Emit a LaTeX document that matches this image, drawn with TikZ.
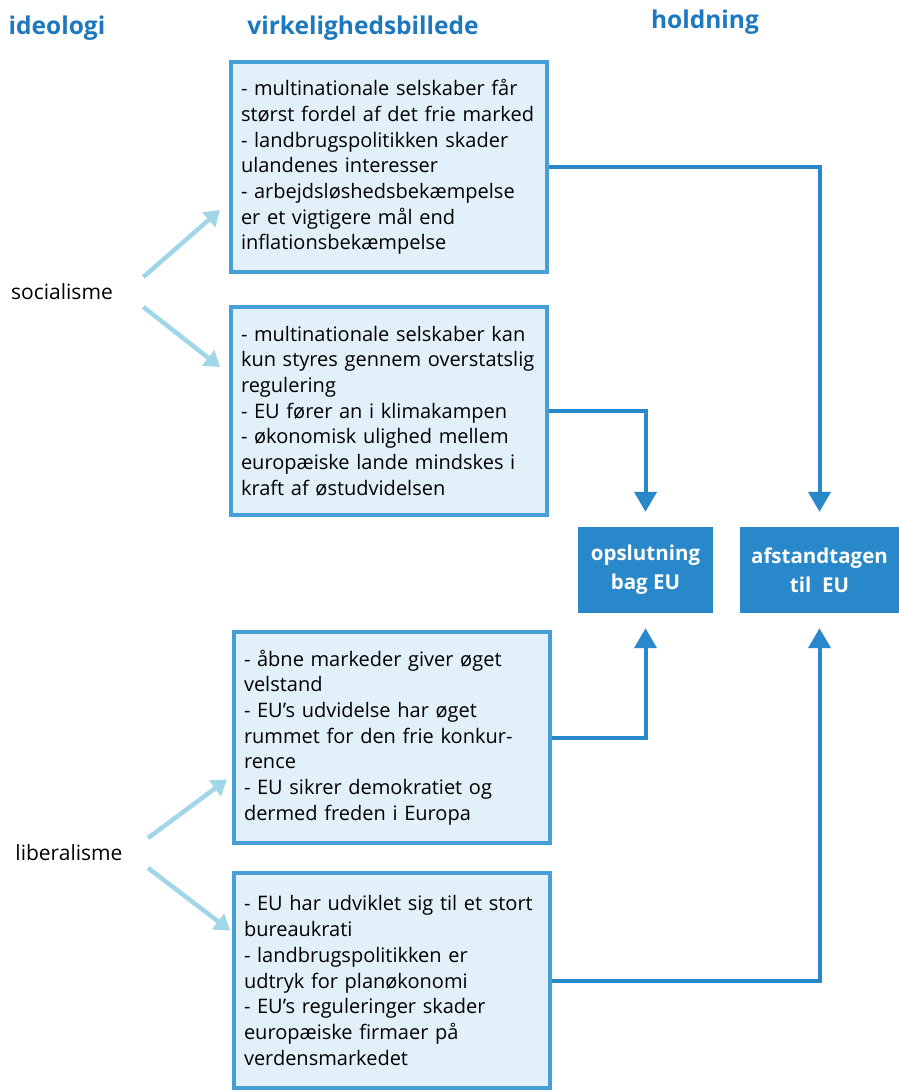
\documentclass[tikz,border=0pt]{standalone}
\usepackage{fontspec}
\setmainfont{Open Sans}
\usetikzlibrary{arrows.meta}
\definecolor{headblue}{RGB}{30,120,190}
\definecolor{frameblue}{RGB}{70,160,215}
\definecolor{paleblue}{RGB}{226,240,250}
\definecolor{darkblue}{RGB}{41,136,202}
\definecolor{skyblue}{RGB}{160,214,232}
\tikzset{
  header/.style={font=\fontsize{24.5}{28}\selectfont\bfseries, text=headblue},
  ideo/.style={font=\fontsize{21}{24}\selectfont},
  viewbox/.style={draw=frameblue, line width=4pt, fill=paleblue, text width=296pt,
    minimum width=316pt, inner xsep=10pt, align=left,
    font=\fontsize{20}{25.7}\selectfont},
  stance/.style={fill=darkblue, text=white, align=center, inner sep=0pt,
    font=\fontsize{20.5}{29}\selectfont\bfseries},
  flow/.style={draw=darkblue, line width=4pt, -{Triangle[width=22pt,length=20pt]}},
  pointer/.style={draw=skyblue, line width=4.5pt, -{Triangle[width=19pt,length=15pt]}}
}
\begin{document}
\begin{tikzpicture}[x=1pt,y=-1pt]
\useasboundingbox (0,0) rectangle (899,1090);
% column headings
\node[header] (hideo) at (57,28) {ideologi};
\node[header] (hview) at (363,28) {virkelighedsbillede};
\node[header] (hstance) at (705,22) {holdning};
% ideologies
\node[ideo] (soc) at (62,292) {socialisme};
\node[ideo] (lib) at (69,853) {liberalisme};
% views
\node[viewbox, minimum height=210pt] (view1) at (389,167) {- multinationale selskaber får\\
størst fordel af det frie marked\\
- landbrugspolitikken skader\\
ulandenes interesser\\
- arbejdsløshedsbekæmpelse\\
er et vigtigere mål end\\
inflationsbekæmpelse};
\node[viewbox, minimum height=208pt] (view2) at (389,411) {- multinationale selskaber kan\\
kun styres gennem overstatslig\\
regulering\\
- EU fører an i klimakampen\\
- økonomisk ulighed mellem\\
europæiske lande mindskes i\\
kraft af østudvidelsen};
\node[viewbox, minimum height=211pt] (view3) at (392,737.5) {- åbne markeder giver øget\\
velstand\\
- EU's udvidelse har øget\\
rummet for den frie konkur-\\
rence\\
- EU sikrer demokratiet og\\
dermed freden i Europa};
\node[viewbox, minimum height=215pt] (view4) at (392,980.5) {- EU har udviklet sig til et stort\\
bureaukrati\\
- landbrugspolitikken er\\
udtryk for planøkonomi\\
- EU's reguleringer skader\\
europæiske firmaer på\\
verdensmarkedet};
% stances
\node[stance, minimum width=135pt, minimum height=86pt] (support) at (645.5,570) {opslutning\\bag EU};
\node[stance, minimum width=159pt, minimum height=86pt] (distance) at (819.5,570) {afstandtagen\\til~~EU};
% ideology to view
\draw[pointer] ([shift={(27,-15)}]soc.east) -- ([shift={(-9,43)}]view1.west);
\draw[pointer] ([shift={(27,15)}]soc.east) -- ([shift={(-9,-44)}]view2.west);
\draw[pointer] ([shift={(22,-15)}]lib.east) -- ([shift={(-5,42)}]view3.west);
\draw[pointer] ([shift={(22,15)}]lib.east) -- ([shift={(-2,-50)}]view4.west);
% view to stance
\draw[flow, shorten >=15pt] (view1.east) -| (distance.north);
\draw[flow, shorten >=15pt] (view2.east) -| (support.north);
\draw[flow, shorten >=15pt] (view3.east) -| (support.south);
\draw[flow, shorten >=15pt] (view4.east) -| (distance.south);
\end{tikzpicture}
\end{document}
